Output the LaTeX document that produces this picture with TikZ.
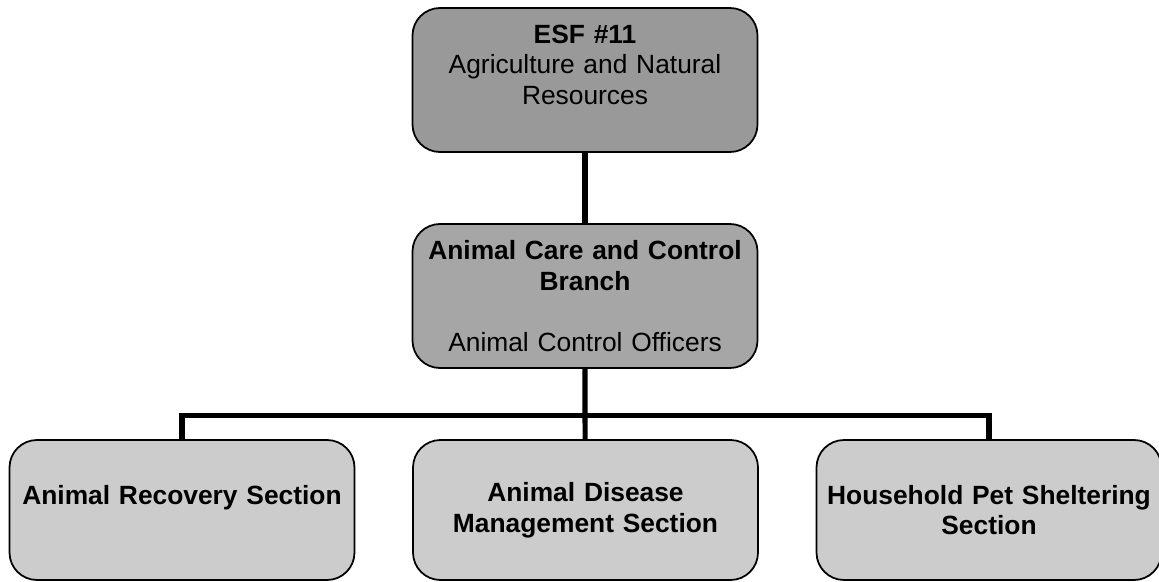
\documentclass[tikz,border=0pt]{standalone}
\usepackage{fontspec}
\setmainfont{Liberation Sans}
\usepackage{tikz}
\usetikzlibrary{positioning}
\definecolor{esfgray}{HTML}{999999}
\definecolor{branchgray}{HTML}{A6A6A6}
\definecolor{sectiongray}{HTML}{CCCCCC}
\tikzstyle{box}=[draw, line width=1pt, rounded corners=0.55cm, inner sep=0pt, align=center, text width=6.6cm, minimum width=6.9cm, minimum height=2.88cm, font=\fontsize{15}{17.5}\selectfont]
\tikzstyle{sectionbox}=[box, fill=sectiongray, minimum height=2.8cm, font=\fontsize{15}{17.5}\selectfont\bfseries]
\tikzstyle{link}=[line width=2.9pt]

\begin{document}
\begin{tikzpicture}
\useasboundingbox (0,0) rectangle (23.18,11.62);
\node[box, fill=esfgray] (esf) at (11.7,10.02) {\textbf{ESF \#11}\\Agriculture and Natural\\Resources\\~};
\node[box, fill=branchgray] (branch) at (11.7,5.7) {\textbf{Animal Care and Control}\\\textbf{Branch}\\[17pt]Animal Control Officers};
\node[sectionbox] (recovery) at (3.64,1.42) {Animal Recovery Section\\~};
\node[sectionbox] (disease) at (11.71,1.42) {Animal Disease\\Management Section};
\node[sectionbox] (shelter) at (19.78,1.42) {Household Pet Sheltering\\Section};
\coordinate (bus) at (11.7,3.31);
\draw[link] (esf) -- (branch);
\draw[link] (branch) -- (bus) -- (disease);
\draw[link] (recovery.north) |- (bus) -| (shelter.north);
\end{tikzpicture}
\end{document}
